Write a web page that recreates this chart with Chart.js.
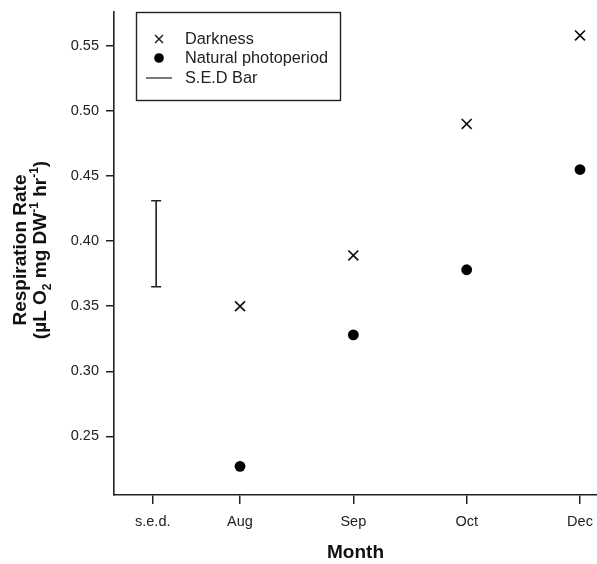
<!DOCTYPE html>
<html>
<head>
<meta charset="utf-8">
<script src="https://cdn.jsdelivr.net/npm/chart.js@4.4.0/dist/chart.umd.min.js"></script>
<style>
  html, body { margin: 0; padding: 0; background: #fff; overflow: hidden; }
  #wrap { position: relative; width: 597px; height: 564px; }
  canvas { display: block; }
</style>
</head>
<body>
<div id="wrap"><canvas id="resp"></canvas></div>
<script>
// data
var monthLabels = ['s.e.d.', 'Aug', 'Sep', 'Oct', 'Dec'];
var monthTicks = [0.23, 1, 2, 3, 4];
var monthX = [1, 2, 3, 4];
var darkness = [0.350, 0.389, 0.490, 0.558];
var natural = [0.227, 0.328, 0.378, 0.455];
var sedX = 0.26;
var sedLow = 0.365;
var sedHigh = 0.431;
var yTicks = [0.25, 0.30, 0.35, 0.40, 0.45, 0.50, 0.55];
var legendLabels = ['Darkness', 'Natural photoperiod', 'S.E.D Bar'];

var FONT = '"Liberation Sans", Arial, Helvetica, sans-serif';
var INK = '#222';

function toPoints(xs, ys) {
    return xs.map(function (x, i) { return { x: x, y: ys[i] }; });
}

// s.e.d. bar
var sedPlugin = {
    id: 'sedBar',
    afterDatasetsDraw: function (chart) {
        var ctx = chart.ctx;
        var x = chart.scales.x.getPixelForValue(sedX);
        var y1 = chart.scales.y.getPixelForValue(sedHigh);
        var y2 = chart.scales.y.getPixelForValue(sedLow);
        ctx.save();
        ctx.strokeStyle = INK;
        ctx.lineWidth = 1.6;
        ctx.beginPath();
        ctx.moveTo(x, y1); ctx.lineTo(x, y2);
        ctx.moveTo(x - 5, y1); ctx.lineTo(x + 5, y1);
        ctx.moveTo(x - 5, y2); ctx.lineTo(x + 5, y2);
        ctx.stroke();
        ctx.restore();
    }
};

// boxed legend in the upper left
var legendPlugin = {
    id: 'boxLegend',
    afterDraw: function (chart) {
        var ctx = chart.ctx;
        ctx.save();
        ctx.strokeStyle = INK;
        ctx.lineWidth = 1.4;
        ctx.strokeRect(136.5, 12.5, 204, 88);

        var rows = [39, 58, 78];
        var sx = 159;
        // cross
        ctx.lineWidth = 1.5;
        ctx.beginPath();
        ctx.moveTo(sx - 4, rows[0] - 4); ctx.lineTo(sx + 4, rows[0] + 4);
        ctx.moveTo(sx + 4, rows[0] - 4); ctx.lineTo(sx - 4, rows[0] + 4);
        ctx.stroke();
        // dot
        ctx.fillStyle = '#000';
        ctx.beginPath();
        ctx.arc(sx, rows[1], 4.8, 0, Math.PI * 2);
        ctx.fill();
        // line
        ctx.lineWidth = 1.2;
        ctx.beginPath();
        ctx.moveTo(146, rows[2]); ctx.lineTo(172, rows[2]);
        ctx.stroke();

        ctx.fillStyle = INK;
        ctx.font = '16.3px ' + FONT;
        ctx.textBaseline = 'middle';
        ctx.textAlign = 'left';
        legendLabels.forEach(function (t, i) {
            ctx.fillText(t, 185, rows[i] + 1);
        });
        ctx.restore();
    }
};

// rotated y title with sub/superscripts
var yTitlePlugin = {
    id: 'yTitle',
    afterDraw: function (chart) {
        var ctx = chart.ctx;
        var cy = 250;
        ctx.save();
        ctx.fillStyle = '#111';
        ctx.textBaseline = 'alphabetic';
        ctx.translate(0, cy);
        ctx.rotate(-Math.PI / 2);

        ctx.font = 'bold 19px ' + FONT;
        ctx.textAlign = 'center';
        ctx.fillText('Respiration Rate', 0, 26);

        // second line built from pieces
        var big = 'bold 19px ' + FONT;
        var small = 'bold 12px ' + FONT;
        var parts = [
            { t: '(\u00b5L O', f: big, dy: 0 },
            { t: '2', f: small, dy: 5 },
            { t: ' mg DW', f: big, dy: 0 },
            { t: '-1', f: small, dy: -8 },
            { t: ' hr', f: big, dy: 0 },
            { t: '-1', f: small, dy: -8 },
            { t: ')', f: big, dy: 0 }
        ];
        var total = 0;
        parts.forEach(function (p) { ctx.font = p.f; p.w = ctx.measureText(p.t).width; total += p.w; });
        var x = -total / 2;
        ctx.textAlign = 'left';
        parts.forEach(function (p) {
            ctx.font = p.f;
            ctx.fillText(p.t, x, 46 + p.dy);
            x += p.w;
        });
        ctx.restore();
    }
};

new Chart(document.getElementById('resp'), {
    type: 'scatter',
    data: {
        datasets: [{
            label: legendLabels[0],
            data: toPoints(monthX, darkness),
            pointStyle: 'crossRot',
            pointRadius: 7,
            pointHoverRadius: 7,
            borderColor: '#111',
            borderWidth: 1.7,
            showLine: false
        }, {
            label: legendLabels[1],
            data: toPoints(monthX, natural),
            pointStyle: 'circle',
            pointRadius: 5.4,
            pointHoverRadius: 5.4,
            backgroundColor: '#000',
            borderColor: '#000',
            borderWidth: 0,
            showLine: false
        }]
    },
    options: {
        responsive: true,
        maintainAspectRatio: false,
        animation: false,
        layout: { autoPadding: false, padding: { top: 12, right: 0, bottom: 0, left: 0 } },
        plugins: {
            legend: { display: false },
            tooltip: { enabled: false }
        },
        scales: {
            x: {
                type: 'linear',
                min: -0.112,
                max: 4.15,
                afterBuildTicks: function (scale) {
                    scale.ticks = monthTicks.map(function (v) { return { value: v }; });
                },
                afterFit: function (scale) {
                    scale.height = 69;
                    scale.paddingRight = 0;
                    scale.paddingLeft = 0;
                },
                ticks: {
                    autoSkip: false,
                    maxRotation: 0,
                    padding: 9,
                    color: INK,
                    font: { family: FONT, size: 14.5 },
                    callback: function (v, i) { return monthLabels[i]; }
                },
                grid: { drawOnChartArea: false, drawTicks: true, tickLength: 9, color: INK, lineWidth: 1.5 },
                border: { display: true, color: INK, width: 1.6 },
                title: {
                    display: true,
                    text: 'Month',
                    color: '#111',
                    font: { family: FONT, size: 19, weight: 'bold' },
                    padding: { top: 0, bottom: 0 }
                }
            },
            y: {
                min: 0.205,
                max: 0.576,
                afterBuildTicks: function (scale) {
                    scale.ticks = yTicks.map(function (v) { return { value: v }; });
                },
                afterFit: function (scale) {
                    scale.width = 114;
                    scale.paddingTop = 0;
                    scale.paddingBottom = 0;
                },
                ticks: {
                    padding: 7,
                    color: INK,
                    font: { family: FONT, size: 14.5 },
                    callback: function (v) { return v.toFixed(2); }
                },
                grid: { drawOnChartArea: false, drawTicks: true, tickLength: 8, color: INK, lineWidth: 1.5 },
                border: { display: true, color: INK, width: 1.6 }
            }
        }
    },
    plugins: [sedPlugin, legendPlugin, yTitlePlugin]
});
</script>
</body>
</html>
